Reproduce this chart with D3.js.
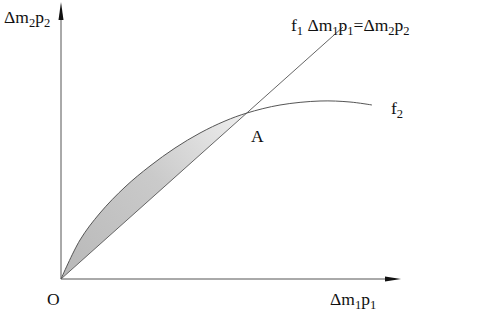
<!DOCTYPE html>
<html>
<head>
<meta charset="utf-8">
<script src="https://cdn.jsdelivr.net/npm/d3@7"></script>
<style>
  body { margin: 0; background: #fff; }
  text { font-family: "Liberation Serif", "DejaVu Serif", serif; fill: #111; }
</style>
</head>
<body>
<div id="chart"></div>
<script>
// chart data (units measured from origin O)
var f1Points = [[0, 0], [282, 252]];
var f2X = [0, 19, 39, 64, 89, 114, 139, 164, 186, 219, 259, 289, 311];
var f2Y = [0, 39, 66, 92, 113, 131, 146, 158, 166, 174, 178, 177, 174];
var intersectX = 186;

var svgWidth = 478;
var svgHeight = 327;

var svg = d3.select("#chart")
  .append("svg")
  .attr("width", svgWidth)
  .attr("height", svgHeight);

// scales
var x = d3.scaleLinear().domain([0, 340]).range([61, 401]);
var y = d3.scaleLinear().domain([0, 277]).range([279, 2]);

var f2 = f2X.map((d, i) => ({x: d, y: f2Y[i]}));
var slope = f1Points[1][1] / f1Points[1][0];

// gradient for shaded region, dark at O, fading toward A
var grad = svg.append("defs").append("linearGradient")
  .attr("id", "shade")
  .attr("gradientUnits", "userSpaceOnUse")
  .attr("x1", x(0)).attr("y1", y(0))
  .attr("x2", x(intersectX)).attr("y2", y(intersectX * slope));
grad.append("stop").attr("offset", "0%").attr("stop-color", "#b8b8b8");
grad.append("stop").attr("offset", "55%").attr("stop-color", "#cacaca");
grad.append("stop").attr("offset", "100%").attr("stop-color", "#efefef");

// shaded area between f1 and f2 up to A
var area = d3.area()
  .x(d => x(d.x))
  .y0(d => y(d.x * slope))
  .y1(d => y(d.y))
  .curve(d3.curveCatmullRom.alpha(0.5));

svg.append("path")
  .datum(f2.filter(d => d.x <= intersectX))
  .attr("d", area)
  .attr("fill", "url(#shade)");

// axes with arrowheads
svg.append("line")
  .attr("x1", x(0)).attr("y1", y(0))
  .attr("x2", x(0)).attr("y2", y(262))
  .attr("stroke", "#555").attr("stroke-width", 1);
svg.append("path")
  .attr("d", `M${x(0)},${y(277)} L${x(0) - 2.5},${y(259)} L${x(0) + 2.5},${y(259)} Z`)
  .attr("fill", "#111");

svg.append("line")
  .attr("x1", x(0)).attr("y1", y(0))
  .attr("x2", x(325)).attr("y2", y(0))
  .attr("stroke", "#555").attr("stroke-width", 1);
svg.append("path")
  .attr("d", `M${x(340)},${y(0)} L${x(324)},${y(0) - 2.5} L${x(324)},${y(0) + 2.5} Z`)
  .attr("fill", "#111");

// f1 line
svg.append("line")
  .attr("x1", x(f1Points[0][0])).attr("y1", y(f1Points[0][1]))
  .attr("x2", x(f1Points[1][0])).attr("y2", y(f1Points[1][1]))
  .attr("stroke", "#666").attr("stroke-width", 1);

// f2 curve
var line = d3.line()
  .x(d => x(d.x))
  .y(d => y(d.y))
  .curve(d3.curveCatmullRom.alpha(0.5));

svg.append("path")
  .datum(f2)
  .attr("d", line)
  .attr("fill", "none")
  .attr("stroke", "#555")
  .attr("stroke-width", 1);

// labels with subscripts
function label(xp, yp, parts) {
  var t = svg.append("text")
    .attr("x", xp).attr("y", yp)
    .attr("font-size", 17.5);
  parts.forEach(function(p) {
    if (p[1]) {
      t.append("tspan").attr("font-size", 12.5).attr("dy", 4).text(p[0]);
    } else {
      t.append("tspan").attr("dy", p[2] ? -4 : 0).text(p[0]);
    }
  });
  return t;
}

label(4, 23, [["Δm"], ["2", true], ["p", false, true], ["2", true]]);
label(291, 31, [["f"], ["1", true], [" Δm", false, true], ["1", true], ["p", false, true], ["1", true],
  ["=Δm", false, true], ["2", true], ["p", false, true], ["2", true]]);
label(391, 114, [["f"], ["2", true]]);
label(330, 305, [["Δm"], ["1", true], ["p", false, true], ["1", true]]);

svg.append("text").attr("x", 251).attr("y", 142).attr("font-size", 17.5).text("A");
svg.append("text").attr("x", 47).attr("y", 305).attr("font-size", 17.5).text("O");
</script>
</body>
</html>
